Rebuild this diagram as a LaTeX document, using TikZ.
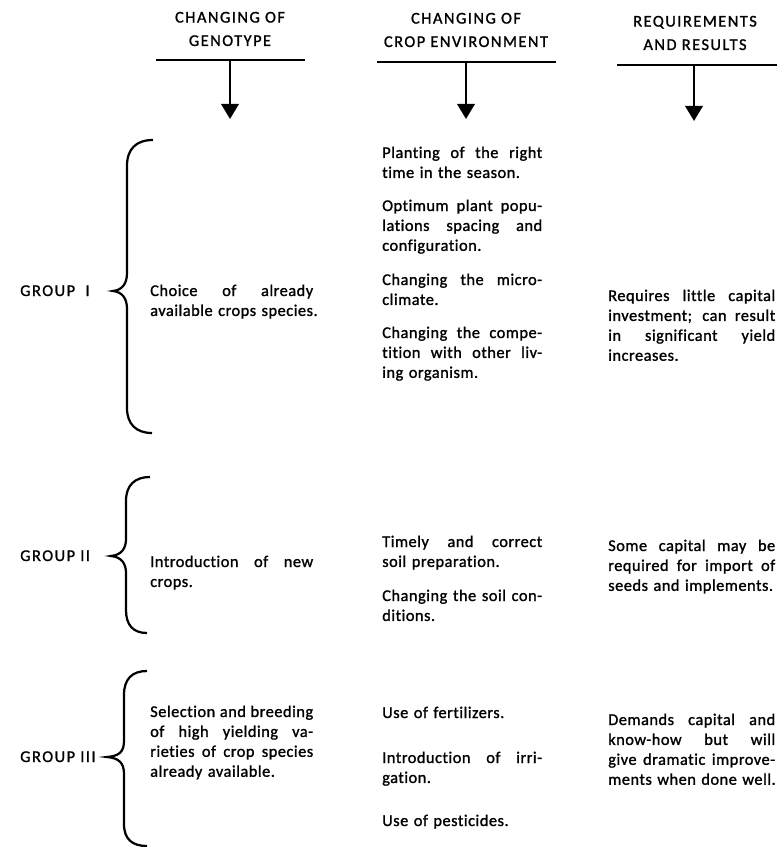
\documentclass[tikz,border=0pt]{standalone}
\usepackage{fontspec}
\setmainfont{Carlito}[LetterSpace=3, FakeBold=1.2, Ligatures=NoCommon]
\newfontfamily\headfont{Carlito}[LetterSpace=9, FakeBold=1.2, Ligatures=NoCommon]
\usetikzlibrary{arrows.meta}
\newlength\colw
\newcommand\jl[1]{\leavevmode\hbox to\colw{\spaceskip=0.25em plus 1fil\relax #1}}
\tikzset{
	head/.style={align=center, inner sep=0, font=\headfont\fontsize{14}{20}\selectfont},
	grp/.style={anchor=base west, inner sep=0, font=\headfont\fontsize{14}{17}\selectfont},
	cell/.style={anchor=base west, inner sep=0, align=left, text width=7cm,
		font=\fontsize{14}{17}\selectfont,
		execute at begin node={\pgfmathsetlength\colw{#1*0.03cm}}},
	down/.style={-{Triangle[width=15pt,length=13pt]}, line width=2.2pt},
	bar/.style={line width=2pt},
	brace/.style={line width=1.9pt}
}
\begin{document}
\begin{tikzpicture}[x=0.03cm, y=-0.03cm]
	\useasboundingbox (0,0) rectangle (777,847);
	% Spaltenkoepfe
	\node[head] (hgeno) at (230,29) {CHANGING OF\\GENOTYPE};
	\node[head] (henv) at (466,30) {CHANGING OF\\CROP ENVIRONMENT};
	\node[head] (hres) at (695,33) {REQUIREMENTS\\AND RESULTS};
	\coordinate (geno-l) at (156,60);
	\coordinate (geno-r) at (305,60);
	\coordinate (geno-m) at (230,60);
	\coordinate (geno-tip) at (230,119);
	\coordinate (env-l) at (377,62);
	\coordinate (env-r) at (556,62);
	\coordinate (env-m) at (466,62);
	\coordinate (env-tip) at (466,119);
	\coordinate (res-l) at (617,65);
	\coordinate (res-r) at (777,65);
	\coordinate (res-m) at (694,65);
	\coordinate (res-tip) at (694,121);
	\draw[bar] (geno-l) -- (geno-r);
	\draw[bar] (env-l) -- (env-r);
	\draw[bar] (res-l) -- (res-r);
	\draw[down] (geno-m) -- (geno-tip);
	\draw[down] (env-m) -- (env-tip);
	\draw[down] (res-m) -- (res-tip);
	% Gruppe I
	\node[grp] (g1) at (20,296) {GROUP\ \ I};
	\draw[brace] (153,140) .. controls (136,140) and (127,149) .. (127,166)
		-- (127,273) .. controls (127,284) and (122,290) .. (113,291)
		.. controls (122,292) and (127,298) .. (127,309)
		-- (127,408) .. controls (127,424) and (136,433) .. (152,433);
	\node[cell=163] (geno1) at (150,296)
		{\jl{Choice of already}\\available crops species.};
	\node[cell=160] (env1a) at (382,158)
		{\jl{Planting of the right}\\time in the season.};
	\node[cell=160] (env1b) at (382,211)
		{\jl{Optimum plant popu-}\\\jl{lations spacing and}\\configuration.};
	\node[cell=160] (env1c) at (382,285)
		{\jl{Changing the micro-}\\climate.};
	\node[cell=160] (env1d) at (382,338)
		{\jl{Changing the compe-}\\\jl{tition with other liv-}\\ing organism.};
	\node[cell=167] (res1) at (608,301)
		{\jl{Requires little capital}\\\jl{investment; can result}\\\jl{in significant yield}\\increases.};
	% Gruppe II
	\node[grp] (g2) at (20,561) {GROUP II};
	\draw[brace] (150,477) .. controls (135,477) and (126,485) .. (126,501)
		-- (126,539) .. controls (126,549) and (121,555) .. (111,556)
		.. controls (121,557) and (126,563) .. (126,573)
		-- (126,610) .. controls (126,625) and (133,633) .. (147,633);
	\node[cell=163] (geno2) at (150,567)
		{\jl{Introduction of new}\\crops.};
	\node[cell=160] (env2a) at (382,547)
		{\jl{Timely and correct}\\soil preparation.};
	\node[cell=160] (env2b) at (382,601)
		{\jl{Changing the soil con-}\\ditions.};
	\node[cell=167] (res2) at (608,551)
		{\jl{Some capital may be}\\\jl{required for import of}\\seeds and implements.};
	% Gruppe III
	\node[grp] (g3) at (20,762) {GROUP III};
	\draw[brace] (147,671) .. controls (132,671) and (124,679) .. (124,695)
		-- (124,741) .. controls (124,752) and (119,756) .. (107,757)
		.. controls (119,758) and (124,763) .. (124,774)
		-- (124,824) .. controls (124,839) and (132,846) .. (147,846);
	\node[cell=163] (geno3) at (150,717)
		{\jl{Selection and breeding}\\\jl{of high yielding va-}\\\jl{rieties of crop species}\\already available.};
	\node[cell=160] (env3a) at (382,718)
		{Use of fertilizers.};
	\node[cell=160] (env3b) at (382,763)
		{\jl{Introduction of irri-}\\gation.};
	\node[cell=160] (env3c) at (382,826)
		{Use of pesticides.};
	\node[cell=167] (res3) at (608,725)
		{\jl{Demands capital and}\\\jl{know-how but will}\\\jl{give dramatic improve-}\\ments when done well.};
\end{tikzpicture}
\end{document}
